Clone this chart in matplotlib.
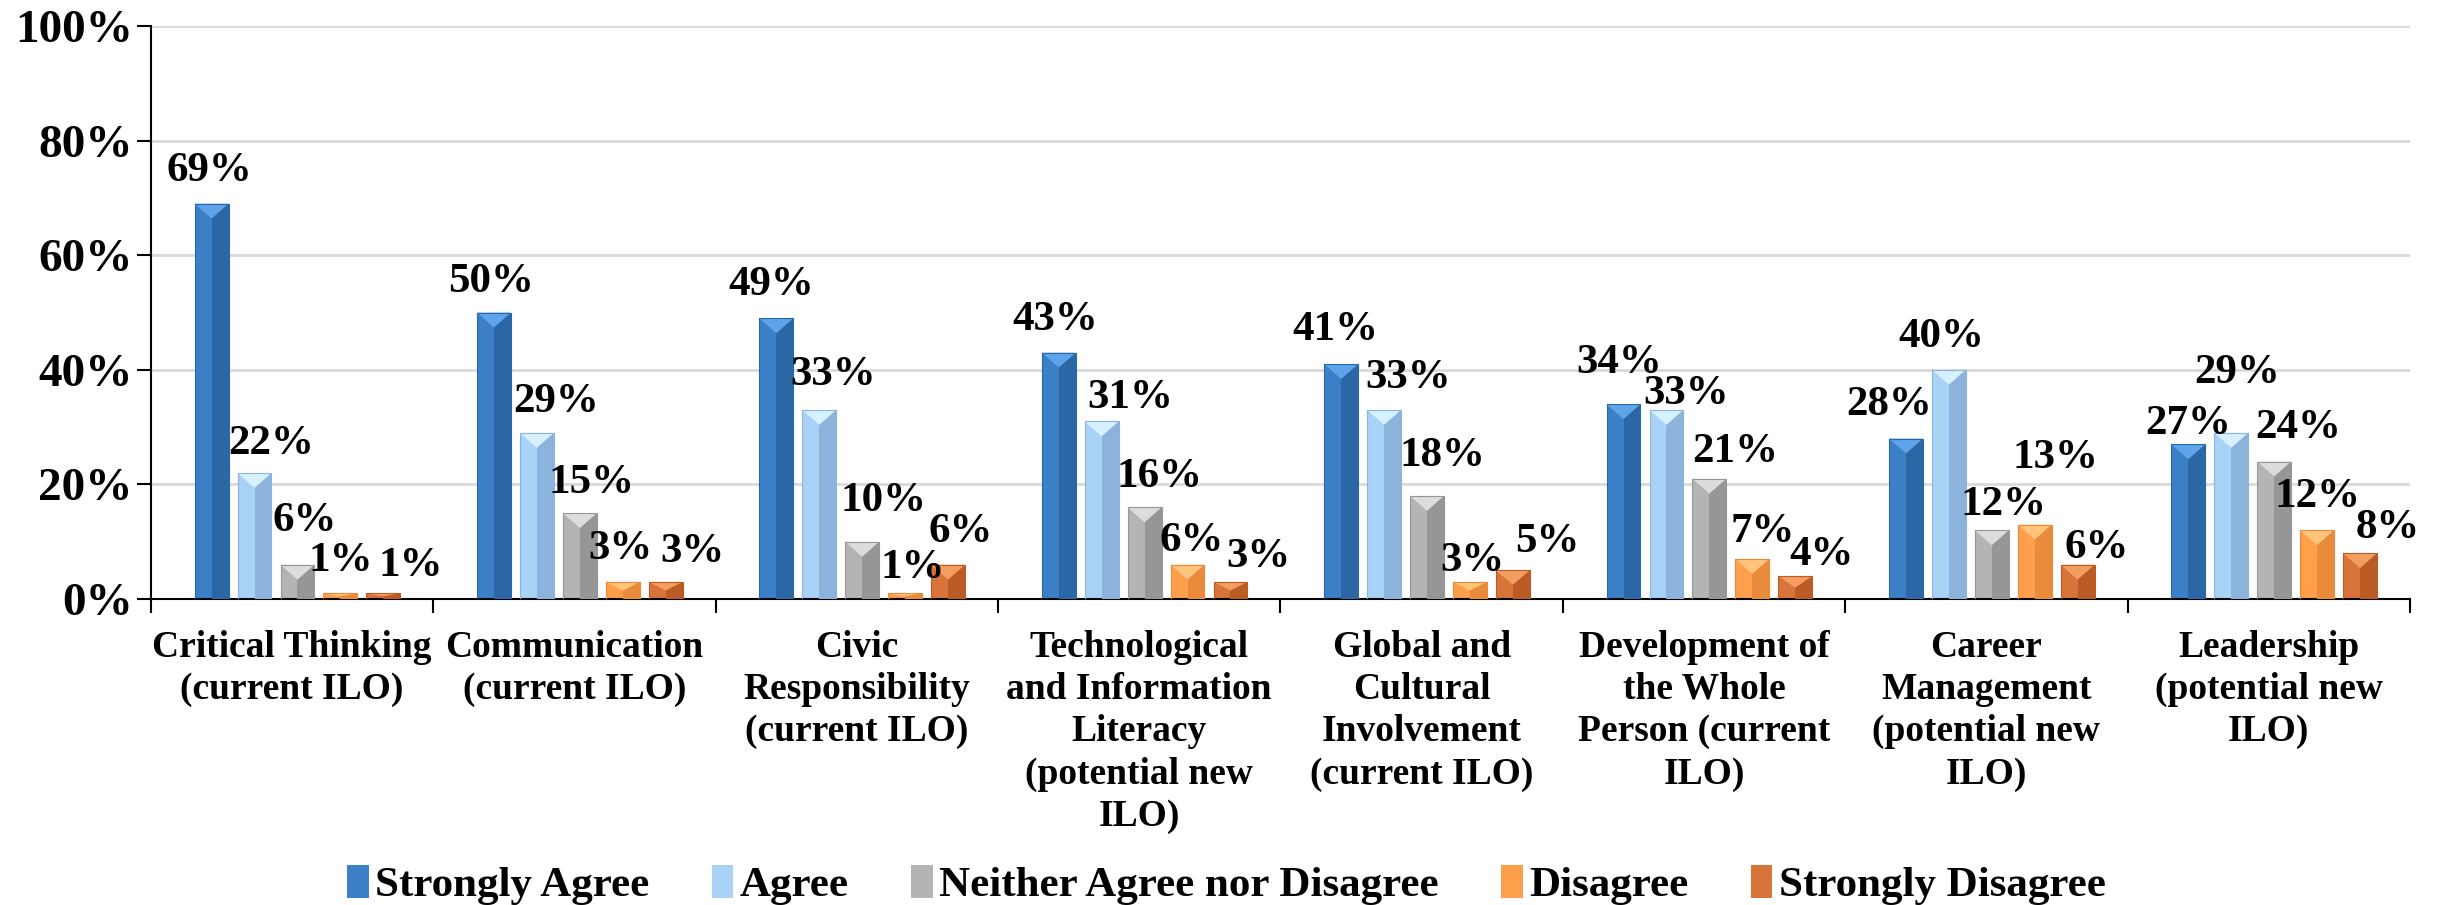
import numpy as np
import matplotlib.pyplot as plt
from matplotlib.patches import Polygon
from matplotlib.ticker import FuncFormatter

plt.rcParams['font.family'] = 'serif'
plt.rcParams['font.serif'] = ['Liberation Serif', 'DejaVu Serif']
plt.rcParams['font.weight'] = 'bold'

categories = [
    "Critical Thinking\n(current ILO)",
    "Communication\n(current ILO)",
    "Civic\nResponsibility\n(current ILO)",
    "Technological\nand Information\nLiteracy\n(potential new\nILO)",
    "Global and\nCultural\nInvolvement\n(current ILO)",
    "Development of\nthe Whole\nPerson (current\nILO)",
    "Career\nManagement\n(potential new\nILO)",
    "Leadership\n(potential new\nILO)",
]
series_names = ["Strongly Agree", "Agree", "Neither Agree nor Disagree",
                "Disagree", "Strongly Disagree"]

strongly_agree = [69, 50, 49, 43, 41, 34, 28, 27]
agree = [22, 29, 33, 31, 33, 33, 40, 29]
neither = [6, 15, 10, 16, 18, 21, 12, 24]
disagree = [1, 3, 1, 6, 3, 7, 13, 12]
strongly_disagree = [1, 3, 6, 3, 5, 4, 6, 8]

values = [strongly_agree, agree, neither, disagree, strongly_disagree]

# left half / right half / top bevel colours to fake the bevelled bars
light = ['#3b80c6', '#a9d2f7', '#b4b4b4', '#ff9f4c', '#d8733a']
dark = ['#2b67a5', '#8cb3dc', '#969696', '#ea8a3b', '#bb5c27']
bevel = ['#5ea4ea', '#d6f1ff', '#dcdcdc', '#ffc47c', '#f39d60']

# label nudges in pixels (x shift, gap above bar top), per group then per series
label_dx = [
    [-2, 17, 7, 0, 27],
    [-3, 19, 12, -2, 27],
    [-5, 14, 21, 8, 13],
    [-4, 29, 15, 4, 28],
    [-6, 24, 15, 3, 34],
    [-4, 20, 26, 10, 26],
    [-17, -8, 12, 21, 19],
    [0, 6, 24, 0, 28],
]
label_gap = [
    [23, 19, 34, 22, 17],
    [21, 21, 20, 23, 20],
    [23, 25, 31, 15, 23],
    [23, 13, 20, 14, 15],
    [24, 22, 30, 11, 18],
    [31, 6, 17, 17, 11],
    [24, 23, 15, 57, 7],
    [10, 50, 24, 23, 15],
]

fig = plt.figure(figsize=(24.38, 9.05), dpi=100)
ax = fig.add_axes([0.0619, 0.338, 0.9266, 0.6333])

n = len(categories)
x0 = np.arange(n)
step = 0.152
width = 0.12
handles = []
for j, vals in enumerate(values):
    xs = x0 + 0.215 + j * step
    h = ax.bar(xs, vals, width=width, color=light[j], edgecolor='none', zorder=2)
    ax.bar(xs + width / 4, vals, width=width / 2, color=dark[j], edgecolor='none', zorder=3)
    for i, v in enumerate(vals):
        d = min(2.6, v / 2)
        tri = Polygon([[xs[i] - width / 2, v], [xs[i] + width / 2, v], [xs[i], v - d]],
                      closed=True, facecolor=bevel[j], edgecolor='none', zorder=3.5)
        ax.add_patch(tri)
    ax.bar(xs, vals, width=width, color='none', edgecolor=dark[j], linewidth=0.8, zorder=4)
    handles.append(h)
    for i, v in enumerate(vals):
        ax.annotate(f"{v}%", (xs[i], v), xytext=(label_dx[i][j], label_gap[i][j]),
                    textcoords='offset pixels', ha='center', va='baseline',
                    fontsize=31, fontweight='bold', zorder=5)

ax.set_xlim(0, n)
ax.set_ylim(0, 100)
ax.set_yticks(np.arange(0, 101, 20))
ax.yaxis.set_major_formatter(FuncFormatter(lambda v, p: f"{int(v)}%"))
ax.grid(axis='y', color='#d9d9d9', linewidth=2, zorder=0)
ax.set_axisbelow(True)

ax.set_xticks(np.arange(0, n + 1))
ax.set_xticklabels([])
ax.set_xticks(x0 + 0.5, minor=True)
ax.set_xticklabels(categories, minor=True, fontsize=27, fontweight='bold', linespacing=1.27)
ax.tick_params(axis='x', which='major', direction='out', length=10, width=1.5)
ax.tick_params(axis='x', which='minor', length=0, pad=22)
ax.tick_params(axis='y', direction='out', length=10, width=1.5, labelsize=34, pad=3)

for s in ['top', 'right']:
    ax.spines[s].set_visible(False)
ax.spines['left'].set_linewidth(1.5)
ax.spines['bottom'].set_linewidth(1.5)

fig.legend(handles, series_names, loc='center', bbox_to_anchor=(0.503, 0.022),
           ncol=5, frameon=False, handlelength=0.5, handleheight=0.8,
           handletextpad=0.15, columnspacing=1.45, prop={'weight': 'bold', 'size': 31})

fig.savefig('out.png', dpi=100)
